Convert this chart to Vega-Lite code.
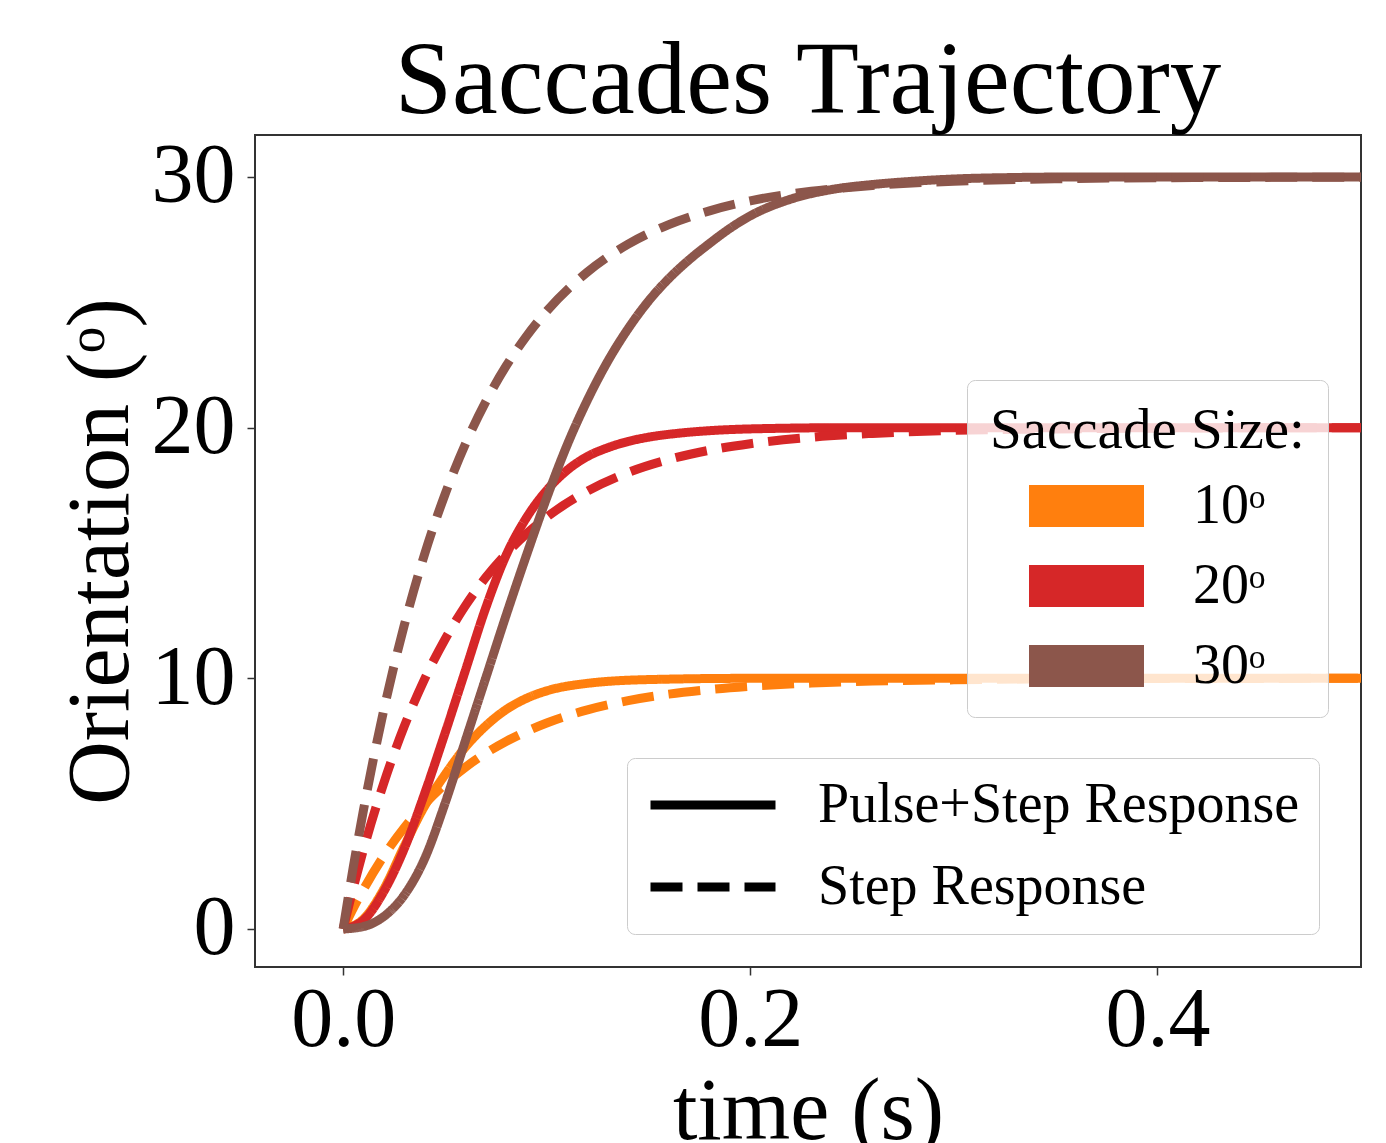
{
  "$schema": "https://vega.github.io/schema/vega-lite/v6.json",
  "width": 1106,
  "height": 832,
  "autosize": {"type": "none"},
  "padding": {"left": 255, "top": 135, "right": 25, "bottom": 176},
  "background": "white",
  "config": {"view": {"stroke": "#333333", "strokeWidth": 2}, "font": "Liberation Serif"},
  "title": {"text": "Saccades Trajectory", "fontSize": 103, "font": "Liberation Serif", "fontWeight": "normal", "color": "black", "anchor": "middle", "baseline": "alphabetic", "offset": 22, "dy": 103, "frame": "group", "limit": 2000},
  "datasets": {
    "curves": [
      {"time": 0, "value": 0, "size": "10ᵒ", "type": "Pulse+Step Response"},
      {"time": 0.01, "value": 0.4, "size": "10ᵒ", "type": "Pulse+Step Response"},
      {"time": 0.02, "value": 1.6, "size": "10ᵒ", "type": "Pulse+Step Response"},
      {"time": 0.03, "value": 3.3, "size": "10ᵒ", "type": "Pulse+Step Response"},
      {"time": 0.04, "value": 4.9, "size": "10ᵒ", "type": "Pulse+Step Response"},
      {"time": 0.05, "value": 6.15, "size": "10ᵒ", "type": "Pulse+Step Response"},
      {"time": 0.06, "value": 7.25, "size": "10ᵒ", "type": "Pulse+Step Response"},
      {"time": 0.07, "value": 8.1, "size": "10ᵒ", "type": "Pulse+Step Response"},
      {"time": 0.08, "value": 8.75, "size": "10ᵒ", "type": "Pulse+Step Response"},
      {"time": 0.09, "value": 9.2, "size": "10ᵒ", "type": "Pulse+Step Response"},
      {"time": 0.1, "value": 9.5, "size": "10ᵒ", "type": "Pulse+Step Response"},
      {"time": 0.12, "value": 9.8, "size": "10ᵒ", "type": "Pulse+Step Response"},
      {"time": 0.15, "value": 9.95, "size": "10ᵒ", "type": "Pulse+Step Response"},
      {"time": 0.2, "value": 10, "size": "10ᵒ", "type": "Pulse+Step Response"},
      {"time": 0.3, "value": 10, "size": "10ᵒ", "type": "Pulse+Step Response"},
      {"time": 0.5, "value": 10, "size": "10ᵒ", "type": "Pulse+Step Response"},

      {"time": 0, "value": 0, "size": "10ᵒ", "type": "Step Response"},
      {"time": 0.005, "value": 0.83, "size": "10ᵒ", "type": "Step Response"},
      {"time": 0.01, "value": 1.58, "size": "10ᵒ", "type": "Step Response"},
      {"time": 0.02, "value": 2.92, "size": "10ᵒ", "type": "Step Response"},
      {"time": 0.03, "value": 4.04, "size": "10ᵒ", "type": "Step Response"},
      {"time": 0.04, "value": 4.98, "size": "10ᵒ", "type": "Step Response"},
      {"time": 0.05, "value": 5.78, "size": "10ᵒ", "type": "Step Response"},
      {"time": 0.06, "value": 6.45, "size": "10ᵒ", "type": "Step Response"},
      {"time": 0.07, "value": 7.01, "size": "10ᵒ", "type": "Step Response"},
      {"time": 0.08, "value": 7.48, "size": "10ᵒ", "type": "Step Response"},
      {"time": 0.09, "value": 7.88, "size": "10ᵒ", "type": "Step Response"},
      {"time": 0.1, "value": 8.22, "size": "10ᵒ", "type": "Step Response"},
      {"time": 0.12, "value": 8.74, "size": "10ᵒ", "type": "Step Response"},
      {"time": 0.14, "value": 9.11, "size": "10ᵒ", "type": "Step Response"},
      {"time": 0.16, "value": 9.37, "size": "10ᵒ", "type": "Step Response"},
      {"time": 0.18, "value": 9.55, "size": "10ᵒ", "type": "Step Response"},
      {"time": 0.2, "value": 9.68, "size": "10ᵒ", "type": "Step Response"},
      {"time": 0.23, "value": 9.81, "size": "10ᵒ", "type": "Step Response"},
      {"time": 0.26, "value": 9.89, "size": "10ᵒ", "type": "Step Response"},
      {"time": 0.3, "value": 9.94, "size": "10ᵒ", "type": "Step Response"},
      {"time": 0.35, "value": 9.98, "size": "10ᵒ", "type": "Step Response"},
      {"time": 0.4, "value": 9.99, "size": "10ᵒ", "type": "Step Response"},
      {"time": 0.5, "value": 10, "size": "10ᵒ", "type": "Step Response"},

      {"time": 0, "value": 0, "size": "20ᵒ", "type": "Pulse+Step Response"},
      {"time": 0.01, "value": 0.35, "size": "20ᵒ", "type": "Pulse+Step Response"},
      {"time": 0.02, "value": 1.5, "size": "20ᵒ", "type": "Pulse+Step Response"},
      {"time": 0.03, "value": 3.2, "size": "20ᵒ", "type": "Pulse+Step Response"},
      {"time": 0.04, "value": 5.4, "size": "20ᵒ", "type": "Pulse+Step Response"},
      {"time": 0.05, "value": 7.8, "size": "20ᵒ", "type": "Pulse+Step Response"},
      {"time": 0.06, "value": 10.3, "size": "20ᵒ", "type": "Pulse+Step Response"},
      {"time": 0.07, "value": 12.8, "size": "20ᵒ", "type": "Pulse+Step Response"},
      {"time": 0.08, "value": 14.9, "size": "20ᵒ", "type": "Pulse+Step Response"},
      {"time": 0.09, "value": 16.4, "size": "20ᵒ", "type": "Pulse+Step Response"},
      {"time": 0.1, "value": 17.5, "size": "20ᵒ", "type": "Pulse+Step Response"},
      {"time": 0.11, "value": 18.3, "size": "20ᵒ", "type": "Pulse+Step Response"},
      {"time": 0.12, "value": 18.85, "size": "20ᵒ", "type": "Pulse+Step Response"},
      {"time": 0.13, "value": 19.2, "size": "20ᵒ", "type": "Pulse+Step Response"},
      {"time": 0.14, "value": 19.45, "size": "20ᵒ", "type": "Pulse+Step Response"},
      {"time": 0.15, "value": 19.62, "size": "20ᵒ", "type": "Pulse+Step Response"},
      {"time": 0.165, "value": 19.78, "size": "20ᵒ", "type": "Pulse+Step Response"},
      {"time": 0.18, "value": 19.88, "size": "20ᵒ", "type": "Pulse+Step Response"},
      {"time": 0.2, "value": 19.95, "size": "20ᵒ", "type": "Pulse+Step Response"},
      {"time": 0.25, "value": 20, "size": "20ᵒ", "type": "Pulse+Step Response"},
      {"time": 0.5, "value": 20, "size": "20ᵒ", "type": "Pulse+Step Response"},

      {"time": 0, "value": 0, "size": "20ᵒ", "type": "Step Response"},
      {"time": 0.005, "value": 1.65, "size": "20ᵒ", "type": "Step Response"},
      {"time": 0.01, "value": 3.17, "size": "20ᵒ", "type": "Step Response"},
      {"time": 0.02, "value": 5.83, "size": "20ᵒ", "type": "Step Response"},
      {"time": 0.03, "value": 8.08, "size": "20ᵒ", "type": "Step Response"},
      {"time": 0.04, "value": 9.97, "size": "20ᵒ", "type": "Step Response"},
      {"time": 0.05, "value": 11.55, "size": "20ᵒ", "type": "Step Response"},
      {"time": 0.06, "value": 12.89, "size": "20ᵒ", "type": "Step Response"},
      {"time": 0.07, "value": 14.02, "size": "20ᵒ", "type": "Step Response"},
      {"time": 0.08, "value": 14.96, "size": "20ᵒ", "type": "Step Response"},
      {"time": 0.09, "value": 15.76, "size": "20ᵒ", "type": "Step Response"},
      {"time": 0.1, "value": 16.43, "size": "20ᵒ", "type": "Step Response"},
      {"time": 0.12, "value": 17.47, "size": "20ᵒ", "type": "Step Response"},
      {"time": 0.14, "value": 18.21, "size": "20ᵒ", "type": "Step Response"},
      {"time": 0.16, "value": 18.73, "size": "20ᵒ", "type": "Step Response"},
      {"time": 0.18, "value": 19.1, "size": "20ᵒ", "type": "Step Response"},
      {"time": 0.2, "value": 19.36, "size": "20ᵒ", "type": "Step Response"},
      {"time": 0.23, "value": 19.62, "size": "20ᵒ", "type": "Step Response"},
      {"time": 0.26, "value": 19.77, "size": "20ᵒ", "type": "Step Response"},
      {"time": 0.3, "value": 19.89, "size": "20ᵒ", "type": "Step Response"},
      {"time": 0.35, "value": 19.95, "size": "20ᵒ", "type": "Step Response"},
      {"time": 0.4, "value": 19.98, "size": "20ᵒ", "type": "Step Response"},
      {"time": 0.5, "value": 20, "size": "20ᵒ", "type": "Step Response"},

      {"time": 0, "value": 0, "size": "30ᵒ", "type": "Pulse+Step Response"},
      {"time": 0.01, "value": 0.1, "size": "30ᵒ", "type": "Pulse+Step Response"},
      {"time": 0.02, "value": 0.5, "size": "30ᵒ", "type": "Pulse+Step Response"},
      {"time": 0.03, "value": 1.35, "size": "30ᵒ", "type": "Pulse+Step Response"},
      {"time": 0.04, "value": 2.8, "size": "30ᵒ", "type": "Pulse+Step Response"},
      {"time": 0.05, "value": 5.0, "size": "30ᵒ", "type": "Pulse+Step Response"},
      {"time": 0.06, "value": 7.5, "size": "30ᵒ", "type": "Pulse+Step Response"},
      {"time": 0.07, "value": 10.0, "size": "30ᵒ", "type": "Pulse+Step Response"},
      {"time": 0.08, "value": 12.5, "size": "30ᵒ", "type": "Pulse+Step Response"},
      {"time": 0.09, "value": 14.9, "size": "30ᵒ", "type": "Pulse+Step Response"},
      {"time": 0.1, "value": 17.2, "size": "30ᵒ", "type": "Pulse+Step Response"},
      {"time": 0.11, "value": 19.3, "size": "30ᵒ", "type": "Pulse+Step Response"},
      {"time": 0.12, "value": 21.1, "size": "30ᵒ", "type": "Pulse+Step Response"},
      {"time": 0.13, "value": 22.65, "size": "30ᵒ", "type": "Pulse+Step Response"},
      {"time": 0.14, "value": 23.95, "size": "30ᵒ", "type": "Pulse+Step Response"},
      {"time": 0.15, "value": 25.05, "size": "30ᵒ", "type": "Pulse+Step Response"},
      {"time": 0.16, "value": 25.95, "size": "30ᵒ", "type": "Pulse+Step Response"},
      {"time": 0.17, "value": 26.7, "size": "30ᵒ", "type": "Pulse+Step Response"},
      {"time": 0.18, "value": 27.35, "size": "30ᵒ", "type": "Pulse+Step Response"},
      {"time": 0.19, "value": 27.95, "size": "30ᵒ", "type": "Pulse+Step Response"},
      {"time": 0.2, "value": 28.45, "size": "30ᵒ", "type": "Pulse+Step Response"},
      {"time": 0.22, "value": 29.12, "size": "30ᵒ", "type": "Pulse+Step Response"},
      {"time": 0.24, "value": 29.5, "size": "30ᵒ", "type": "Pulse+Step Response"},
      {"time": 0.26, "value": 29.7, "size": "30ᵒ", "type": "Pulse+Step Response"},
      {"time": 0.28, "value": 29.83, "size": "30ᵒ", "type": "Pulse+Step Response"},
      {"time": 0.3, "value": 29.92, "size": "30ᵒ", "type": "Pulse+Step Response"},
      {"time": 0.33, "value": 29.98, "size": "30ᵒ", "type": "Pulse+Step Response"},
      {"time": 0.36, "value": 30, "size": "30ᵒ", "type": "Pulse+Step Response"},
      {"time": 0.5, "value": 30, "size": "30ᵒ", "type": "Pulse+Step Response"},

      {"time": 0, "value": 0, "size": "30ᵒ", "type": "Step Response"},
      {"time": 0.005, "value": 2.48, "size": "30ᵒ", "type": "Step Response"},
      {"time": 0.01, "value": 4.75, "size": "30ᵒ", "type": "Step Response"},
      {"time": 0.02, "value": 8.75, "size": "30ᵒ", "type": "Step Response"},
      {"time": 0.03, "value": 12.11, "size": "30ᵒ", "type": "Step Response"},
      {"time": 0.04, "value": 14.95, "size": "30ᵒ", "type": "Step Response"},
      {"time": 0.05, "value": 17.33, "size": "30ᵒ", "type": "Step Response"},
      {"time": 0.06, "value": 19.34, "size": "30ᵒ", "type": "Step Response"},
      {"time": 0.07, "value": 21.03, "size": "30ᵒ", "type": "Step Response"},
      {"time": 0.08, "value": 22.45, "size": "30ᵒ", "type": "Step Response"},
      {"time": 0.09, "value": 23.64, "size": "30ᵒ", "type": "Step Response"},
      {"time": 0.1, "value": 24.65, "size": "30ᵒ", "type": "Step Response"},
      {"time": 0.12, "value": 26.21, "size": "30ᵒ", "type": "Step Response"},
      {"time": 0.14, "value": 27.32, "size": "30ᵒ", "type": "Step Response"},
      {"time": 0.16, "value": 28.1, "size": "30ᵒ", "type": "Step Response"},
      {"time": 0.18, "value": 28.65, "size": "30ᵒ", "type": "Step Response"},
      {"time": 0.2, "value": 29.05, "size": "30ᵒ", "type": "Step Response"},
      {"time": 0.23, "value": 29.43, "size": "30ᵒ", "type": "Step Response"},
      {"time": 0.26, "value": 29.66, "size": "30ᵒ", "type": "Step Response"},
      {"time": 0.3, "value": 29.83, "size": "30ᵒ", "type": "Step Response"},
      {"time": 0.35, "value": 29.93, "size": "30ᵒ", "type": "Step Response"},
      {"time": 0.4, "value": 29.97, "size": "30ᵒ", "type": "Step Response"},
      {"time": 0.5, "value": 29.99, "size": "30ᵒ", "type": "Step Response"}
    ]
  },
  "data": {"name": "curves"},
  "mark": {"type": "line", "interpolate": "monotone", "strokeWidth": 9, "strokeCap": "butt"},
  "encoding": {
    "x": {
      "field": "time", "type": "quantitative",
      "scale": {"domain": [-0.0433, 0.5], "nice": false, "zero": false},
      "axis": {
        "values": [0, 0.2, 0.4], "format": ".1f",
        "title": "time (s)", "titleFontSize": 88, "titleFont": "Liberation Serif", "titleFontWeight": "normal", "titleColor": "black",
        "titleX": 553, "titleY": 171, "titleBaseline": "alphabetic", "titleAlign": "center",
        "labelFontSize": 84, "labelFont": "Liberation Serif", "labelColor": "black", "labelPadding": 4,
        "labelFlush": false, "labelOverlap": false,
        "tickSize": 8, "tickColor": "#333333", "tickWidth": 1.5,
        "domain": false, "grid": false
      }
    },
    "y": {
      "field": "value", "type": "quantitative",
      "scale": {"domain": [-1.516, 31.675], "nice": false, "zero": false},
      "axis": {
        "values": [0, 10, 20, 30],
        "title": "Orientation (ᵒ)", "titleFontSize": 88, "titleFont": "Liberation Serif", "titleFontWeight": "normal", "titleColor": "black",
        "titleX": -128, "titleY": 416, "titleBaseline": "alphabetic", "titleAlign": "center", "titleAngle": 270, "titleLimit": 2000,
        "labelFontSize": 84, "labelFont": "Liberation Serif", "labelColor": "black", "labelPadding": 12,
        "labelFlush": false, "labelOverlap": false,
        "tickSize": 8, "tickColor": "#333333", "tickWidth": 1.5,
        "domain": false, "grid": false
      }
    },
    "color": {
      "field": "size", "type": "nominal",
      "scale": {"domain": ["10ᵒ", "20ᵒ", "30ᵒ"], "range": ["#ff7f0e", "#d62728", "#8c564b"]},
      "legend": {
        "orient": "none", "legendX": 712, "legendY": 245,
        "title": "Saccade Size:", "titleFontSize": 57, "titleFont": "Liberation Serif", "titleFontWeight": "normal", "titleColor": "black", "titlePadding": 18, "titleLimit": 2000,
        "labelFontSize": 56, "labelFont": "Liberation Serif", "labelColor": "black", "labelOffset": 49, "labelLimit": 2000,
        "symbolType": "M-1,-0.365H1V0.365H-1Z", "symbolSize": 13225, "symbolOffset": 39, "symbolStrokeWidth": 0,
        "clipHeight": 56, "rowPadding": 24, "padding": 23,
        "fillColor": "rgba(255,255,255,0.8)", "strokeColor": "#cccccc", "cornerRadius": 8,
        "encode": {"symbols": {"update": {"fill": {"scale": "color", "field": "value"}, "stroke": {"value": "transparent"}, "opacity": {"value": 1}}}}
      }
    },
    "strokeDash": {
      "field": "type", "type": "nominal",
      "scale": {"domain": ["Pulse+Step Response", "Step Response"], "range": [[1, 0], [32, 15]]},
      "legend": {
        "orient": "none", "legendX": 372, "legendY": 623, "title": null,
        "labelFontSize": 56, "labelFont": "Liberation Serif", "labelColor": "black", "labelOffset": 38, "labelLimit": 2000,
        "symbolType": "stroke", "symbolSize": 15625, "symbolStrokeWidth": 9, "symbolStrokeColor": "black",
        "clipHeight": 56, "rowPadding": 26, "padding": 19,
        "fillColor": "rgba(255,255,255,0.8)", "strokeColor": "#cccccc", "cornerRadius": 8
      }
    }
  }
}
